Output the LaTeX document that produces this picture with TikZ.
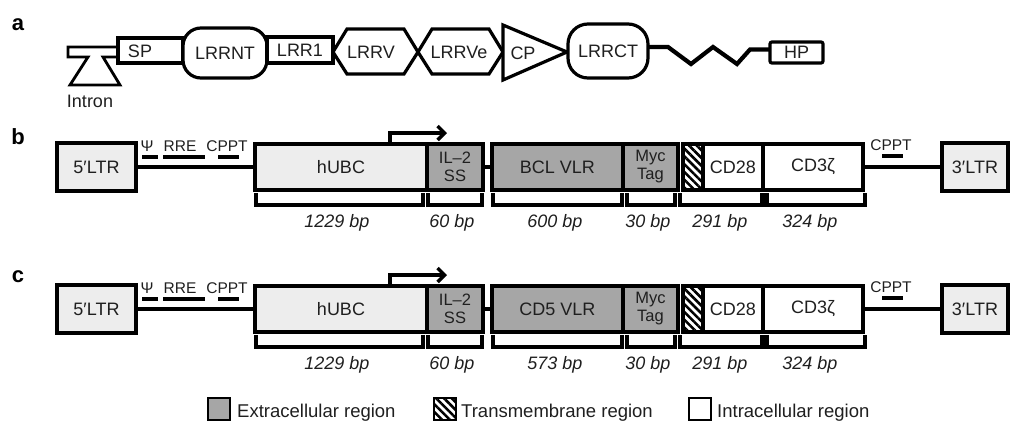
\documentclass[tikz,border=0pt]{standalone}
\usepackage{fontspec}
\setmainfont{Liberation Sans}
\usetikzlibrary{arrows.meta,patterns.meta,calc}
\definecolor{lightfill}{gray}{0.93}
\definecolor{darkfill}{gray}{0.65}
\definecolor{txt}{gray}{0.12}
\newcommand\fA{\fontsize{18}{20}\selectfont}
\newcommand\fS{\fontsize{15.5}{17}\selectfont}
\newcommand\fT{\fontsize{16.5}{18}\selectfont}
\newcommand\fL{\fontsize{18.5}{20}\selectfont}
\tikzset{
 seg/.style={draw=black, line width=3.4pt, inner sep=0pt, outer sep=0pt, text=txt, font=\fA, align=center},
 lightseg/.style={seg, fill=lightfill},
 darkseg/.style={seg, fill=darkfill},
 whiteseg/.style={seg, fill=white},
 backbone/.style={line width=3.4pt},
 feat/.style={fill=black, inner sep=0pt, outer sep=0pt, minimum height=4.5pt},
 featlab/.style={font=\fS, text=txt, inner sep=0pt},
 brk/.style={line width=3.4pt, line join=miter},
 bplab/.style={font=\fA\itshape, text=txt, inner sep=0pt},
 panel/.style={font=\fontsize{22}{24}\selectfont\bfseries, inner sep=0pt},
 dom/.style={draw=black, line width=3.2pt, line join=miter, fill=white, inner sep=0pt, outer sep=0pt, text=txt, font=\fA},
 domtext/.style={font=\fA, text=txt, inner sep=0pt},
 hatch/.style={pattern={Lines[angle=-45,distance=5.5pt,line width=2.6pt]}},
 legtext/.style={font=\fL, text=txt, inner sep=0pt, anchor=base west},
}
\newcommand\carconstruct[3]{%
 \node[lightseg, minimum width=79pt, minimum height=48pt] (#1ltr5) at (96.5,167) {5′LTR};
 \node[lightseg, minimum width=172pt, minimum height=46pt] (#1hubc) at (341,167) {hUBC};
 \node[darkseg, font=\fT, minimum width=56pt, minimum height=46pt] (#1il) at (455,167) {IL–2\\SS};
 \node[darkseg, minimum width=131pt, minimum height=46pt] (#1vlr) at (557.5,167) {#2};
 \node[darkseg, font=\fT, minimum width=55pt, minimum height=46pt] (#1myc) at (650.5,167) {Myc\\Tag};
 \node[hatch, inner sep=0pt, outer sep=0pt, minimum width=20pt, minimum height=46pt] (#1tm) at (693,167) {};
 \node[whiteseg, minimum width=60pt, minimum height=46pt] (#1cd28) at (733,167) {CD28};
 \node[whiteseg, minimum width=100pt, minimum height=46pt] (#1cd3) at (813,167) {CD3ζ};
 \node[lightseg, minimum width=66pt, minimum height=48pt] (#1ltr3) at (975,167) {3′LTR};
 \draw[line width=3.4pt, line join=miter] (#1tm.south east) -| (#1tm.north west) -- (#1tm.north east);
 \draw[backbone] (#1ltr5) -- (#1hubc);
 \draw[backbone] (#1il) -- (#1vlr);
 \draw[backbone] (#1cd3) -- (#1ltr3);
 % features on the backbone
 \node[feat, minimum width=16pt] (#1psi) at (150,157) {};
 \node[featlab] (#1psil) at (147,146) {Ψ};
 \node[feat, minimum width=42pt] (#1rre) at (184,157) {};
 \node[featlab] (#1rrel) at (180,146) {RRE};
 \node[feat, minimum width=21pt] (#1cppt) at (228.5,157) {};
 \node[featlab] (#1cpptl) at (227,146) {CPPT};
 \node[feat, minimum width=21pt] (#1cpptb) at (892.5,156) {};
 \node[featlab] (#1cpptbl) at (891,145) {CPPT};
 % promoter arrow
 \draw[line width=3.4pt, line join=miter, -{Straight Barb[length=7pt,width=14pt,line width=3.4pt]}]
   ($(#1hubc.north east)+(-37,0)$) |- ++(57,-11);
 % brackets
 \foreach \a/\b in {256/423,428/482,493/622,627/675,680/762,767/865}
   \draw[brk] (\a,193) -- (\a,205) -- (\b,205) -- (\b,193);
 \fill (762,193) rectangle (767,206.7);
 \node[bplab] (#1bp1) at (337,223) {1229 bp};
 \node[bplab] (#1bp2) at (452,223) {60 bp};
 \node[bplab] (#1bp3) at (555,223) {#3};
 \node[bplab] (#1bp4) at (648,223) {30 bp};
 \node[bplab] (#1bp5) at (720,223) {291 bp};
 \node[bplab] (#1bp6) at (810,223) {324 bp};
}
\begin{document}
\begin{tikzpicture}[x=1pt,y=-1pt]
\useasboundingbox (0,0) rectangle (1010,421);
% panel letters
\node[panel] (pa) at (18,25) {a};
\node[panel] (pb) at (18,137) {b};
\node[panel] (pc) at (18,277) {c};
% ---------- panel a ----------
\draw[line width=2.8pt, line join=miter, fill=white] (118,47) -- (68,47) -- (68,57) -- (88,57) -- (70,85) -- (120,85) -- (103,57) -- (118,57);
\node[domtext] (intron) at (90,101) {Intron};
\node[dom, minimum width=65pt, minimum height=25pt] (sp) at (150.5,50.5) {};
\node[domtext] (spl) at (140,51) {SP};
\node[dom, rounded corners=18pt, minimum width=84pt, minimum height=50pt] (lrrnt) at (225,53) {LRRNT};
\node[dom, minimum width=66pt, minimum height=26pt] (lrr1) at (300,50) {LRR1};
\draw[dom] (333,52) -- (347,29) -- (404,29) -- (418,52) -- (404,74) -- (347,74) -- cycle;
\node[domtext] (lrrv) at (371,52) {LRRV};
\draw[dom] (418,52) -- (432,29) -- (489,29) -- (503,52) -- (489,74) -- (432,74) -- cycle;
\node[domtext] (lrrve) at (459,52) {LRRVe};
\draw[dom] (503,25) -- (567,52) -- (503,80) -- cycle;
\node[domtext] (cp) at (523,53) {CP};
\node[dom, rounded corners=20pt, minimum width=80pt, minimum height=54pt] (lrrct) at (608,51) {LRRCT};
\node[dom, rounded corners=2pt, minimum width=53pt, minimum height=21pt] (hp) at (796.5,52.5) {HP};
\draw[line width=4.2pt, line join=miter] ([yshift=4pt]lrrct.east) -- ++(20,0) -- ++(23,17) -- ++(22,-17) -- ++(24,17) -- ++(13,-14.5) -- ([yshift=3pt]hp.west);
% ---------- panel b ----------
\carconstruct{b}{BCL VLR}{600 bp}
% ---------- panel c ----------
\begin{scope}[yshift=-142pt]
\carconstruct{c}{CD5 VLR}{573 bp}
\end{scope}
% ---------- legend ----------
\node[darkseg, line width=2.6pt, minimum width=22pt, minimum height=22pt] (lg1) at (219,409) {};
\node[legtext] (lg1t) at (237,417.5) {Extracellular region};
\node[draw=black, line width=2.6pt, hatch, inner sep=0pt, outer sep=0pt, minimum width=22pt, minimum height=22pt] (lg2) at (445,409) {};
\node[legtext] (lg2t) at (461,417.5) {Transmembrane region};
\node[whiteseg, line width=2.6pt, minimum width=22pt, minimum height=22pt] (lg3) at (700,409) {};
\node[legtext] (lg3t) at (717,417.5) {Intracellular region};
\end{tikzpicture}
\end{document}
